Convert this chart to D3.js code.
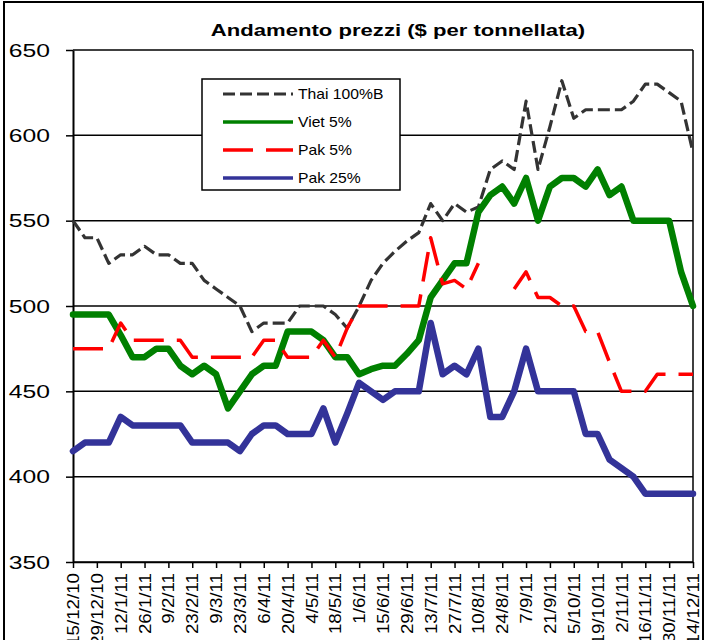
<!DOCTYPE html>
<html><head><meta charset="utf-8">
<script src="https://cdn.jsdelivr.net/npm/d3@7"></script>
<style>body{margin:0;background:#fff} svg{display:block} text{font-family:"Liberation Sans",Arial,sans-serif}</style>
</head><body><svg id="c" width="707" height="640"></svg>
<script>
const dates = ["15/12/10","22/12/10","29/12/10","5/1/11","12/1/11","19/1/11","26/1/11","2/2/11","9/2/11","16/2/11",
"23/2/11","2/3/11","9/3/11","16/3/11","23/3/11","30/3/11","6/4/11","13/4/11","20/4/11","27/4/11",
"4/5/11","11/5/11","18/5/11","25/5/11","1/6/11","8/6/11","15/6/11","22/6/11","29/6/11","6/7/11",
"13/7/11","20/7/11","27/7/11","3/8/11","10/8/11","17/8/11","24/8/11","31/8/11","7/9/11","14/9/11",
"21/9/11","28/9/11","5/10/11","12/10/11","19/10/11","26/10/11","2/11/11","9/11/11","16/11/11","23/11/11",
"30/11/11","7/12/11","14/12/11"];
const tickLabels = ["15/12/10","29/12/10","12/1/11","26/1/11","9/2/11","23/2/11","9/3/11","23/3/11","6/4/11","20/4/11",
"4/5/11","18/5/11","1/6/11","15/6/11","29/6/11","13/7/11","27/7/11","10/8/11","24/8/11","7/9/11",
"21/9/11","5/10/11","19/10/11","2/11/11","16/11/11","30/11/11","14/12/11"];
const yTicks = [350,400,450,500,550,600,650];
const seriesNames = ["Thai 100%B","Viet 5%","Pak 5%","Pak 25%"];
const thai = [550,540,540,525,530,530,535,530,530,525,525,515,510,505,500,485,490,490,490,500,
500,500,495,487,500,515,525,532,538,543,560,550,560,555,558,580,585,580,620,580,
605,632,610,615,615,615,615,620,630,630,625,620,590];
const viet = [495,495,495,495,483,470,470,475,475,465,460,465,460,440,450,460,465,465,485,485,
485,480,470,470,460,463,465,465,472,480,505,515,525,525,555,565,570,560,575,550,
570,575,575,570,580,565,570,550,550,550,550,520,500];
const pak5 = [475,475,475,475,490,480,480,480,480,480,470,470,470,470,470,470,480,480,470,470,
470,480,470,487,500,500,500,500,500,500,540,513,515,510,525,null,null,510,520,505,
505,500,500,485,485,467,450,450,450,460,460,460,460];
const pak25 = [415,420,420,420,435,430,430,430,430,430,420,420,420,420,415,425,430,430,425,425,
425,440,420,437,455,450,445,450,450,450,490,460,465,460,475,435,435,450,475,450,
450,450,450,425,425,410,405,400,390,390,390,390,390];

const svg = d3.select("#c");
const L=73,R=693,T=50,B=562;
const x = d3.scalePoint().domain(dates).range([L,R]).padding(0);
const y = d3.scaleLinear().domain([350,650]).range([B,T]);

// chart area border
svg.append("rect").attr("x",4).attr("y",2).attr("width",699).attr("height",680)
  .attr("fill","none").attr("stroke","#000").attr("stroke-width",2);

// gridlines
svg.append("g").selectAll("line").data(yTicks).join("line")
  .attr("x1",L).attr("x2",R).attr("y1",d=>y(d)).attr("y2",d=>y(d))
  .attr("stroke","#000").attr("stroke-width",1.5);
// right border of plot
svg.append("line").attr("x1",R).attr("x2",R).attr("y1",T).attr("y2",B).attr("stroke","#000").attr("stroke-width",1.5);

// y axis
const gy = svg.append("g").attr("transform",`translate(${L},0)`)
  .call(d3.axisLeft(y).tickValues(yTicks).tickSize(7).tickSizeOuter(0).tickFormat(d3.format("d")));
gy.select(".domain").attr("stroke","#000").attr("stroke-width",2);
gy.selectAll(".tick line").attr("stroke","#000").attr("stroke-width",1.5);
gy.selectAll(".tick text").attr("x",null).attr("dy",null)
  .attr("transform","translate(-23,6) scale(1.3,1)")
  .attr("font-size",19).attr("fill","#000").attr("text-anchor","end");
gy.attr("font-family",null);

// x axis
const gx = svg.append("g").attr("transform",`translate(0,${B})`)
  .call(d3.axisBottom(x).tickValues(tickLabels).tickSize(6).tickSizeOuter(0));
gx.select(".domain").attr("stroke","#000").attr("stroke-width",1.5);
gx.selectAll(".tick line").attr("stroke","#000").attr("stroke-width",1.5);
gx.selectAll(".tick text").attr("x",null).attr("y",null).attr("dy","0.35em")
  .attr("transform","translate(0,11) rotate(-90) scale(1.17,1)")
  .attr("text-anchor","end").attr("font-size",16).attr("fill","#000");
gx.attr("font-family",null);

// legend
const styles = [
  {data:thai, color:"#333333", w:3.2, dash:"12,5"},
  {data:viet, color:"#008000", w:6.5, dash:null},
  {data:pak5, color:"#ff0000", w:3.5, dash:"30,13"},
  {data:pak25, color:"#333399", w:6.5, dash:null}
];
svg.append("rect").attr("x",202).attr("y",79).attr("width",198).attr("height",111)
  .attr("fill","#fff").attr("stroke","#000").attr("stroke-width",1.5);
const lg = svg.append("g").selectAll("g").data(styles).join("g")
  .attr("transform",(d,i)=>`translate(0,${94+i*28})`);
lg.append("line").attr("x1",223).attr("x2",293).attr("y1",0).attr("y2",0)
  .attr("stroke",d=>d.color).attr("stroke-width",d=>Math.min(d.w,3.5))
  .attr("stroke-dasharray",d=>d.dash);
lg.append("text").attr("transform","translate(298,5) scale(1.12,1)")
  .attr("font-size",14).attr("fill","#000").text((d,i)=>seriesNames[i]);

// title
svg.append("text").attr("transform","translate(398,36) scale(1.3,1)")
  .attr("text-anchor","middle").attr("font-size",17).attr("font-weight","bold").attr("fill","#000")
  .text("Andamento prezzi ($ per tonnellata)");

// series
const line = d3.line().defined(d=>d!=null).x((d,i)=>x(dates[i])).y(d=>y(d));
svg.append("g").selectAll("path").data(styles).join("path")
  .attr("d",d=>line(d.data)).attr("fill","none")
  .attr("stroke",d=>d.color).attr("stroke-width",d=>d.w)
  .attr("stroke-dasharray",d=>d.dash)
  .attr("stroke-linejoin","round").attr("stroke-linecap",d=>d.dash?"butt":"round");
</script></body></html>
